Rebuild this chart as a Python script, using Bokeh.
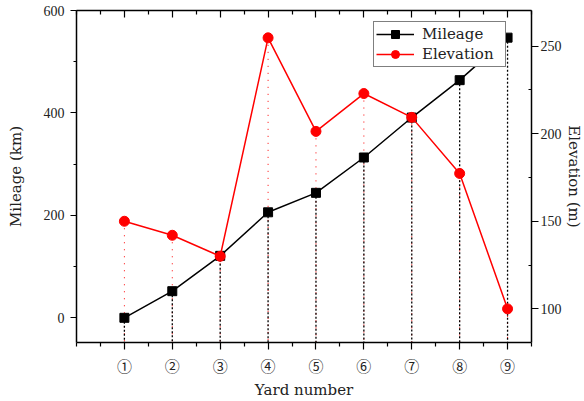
import math
from bokeh.plotting import figure
from bokeh.models import (Range1d, LinearAxis, FixedTicker, Legend, LegendItem,
                          CustomLabelingPolicy, Title)
from bokeh.embed import file_html
from bokeh.resources import INLINE

# ---- data ----
yards = [1, 2, 3, 4, 5, 6, 7, 8, 9]
yard_labels = ["①", "②", "③", "④", "⑤", "⑥", "⑦", "⑧", "⑨"]
mileage = [0, 52, 121, 206, 244, 313, 391, 464, 547]
elevation = [150, 142, 130, 254.7, 201.3, 222.9, 209.3, 177.3, 100]

x_ticks = [1, 2, 3, 4, 5, 6, 7, 8, 9]
x_minor = [0, 0.5, 1.5, 2.5, 3.5, 4.5, 5.5, 6.5, 7.5, 8.5, 9.5]
mileage_ticks = [0, 200, 400, 600]
mileage_minor = [100, 300, 500]
elev_ticks = [100, 150, 200, 250]
elev_minor = [125, 175, 225]

x_lo, x_hi = 0, 9.5
m_lo, m_hi = -48.2, 600
e_lo, e_hi = 80.8, 270.3

TICK_FONT = "Liberation Serif"
LABEL_FONT = "DejaVu Serif"
TXT = "#222222"

p = figure(width=584, height=401, output_backend="svg", toolbar_location=None,
           x_range=Range1d(x_lo, x_hi), y_range=Range1d(m_lo, m_hi),
           x_axis_location=None, y_axis_location=None, title=None,
           min_border_left=76, min_border_right=51, min_border_top=10, min_border_bottom=55)
p.extra_y_ranges = {"elev": Range1d(e_lo, e_hi)}
p.outline_line_color = None
p.grid.visible = False
p.background_fill_color = "white"
p.border_fill_color = "white"

def style_axis(ax):
    ax.axis_line_color = "black"
    ax.axis_line_width = 1.5
    ax.major_tick_line_color = "black"
    ax.minor_tick_line_color = "black"
    ax.major_tick_line_width = 1.2
    ax.minor_tick_line_width = 1.2
    ax.major_label_text_color = TXT
    ax.axis_label_text_color = TXT
    ax.axis_label_text_font_style = "normal"

# bottom axis
xb = LinearAxis(ticker=FixedTicker(ticks=x_ticks, minor_ticks=x_minor),
                axis_label="Yard number")
xb.major_label_overrides = {y: l for y, l in zip(yards, yard_labels)}
style_axis(xb)
xb.major_tick_out = 7
xb.major_tick_in = 0
xb.minor_tick_out = 4
xb.minor_tick_in = 0
xb.major_label_standoff = 5
xb.major_label_text_font = "Noto Sans CJK SC"
xb.major_label_text_font_size = "15px"
xb.axis_label_text_font = LABEL_FONT
xb.axis_label_text_font_size = "15px"
xb.axis_label_standoff = 2
p.add_layout(xb, "below")

# top axis (ticks only, no labels drawn)
xt = LinearAxis(ticker=FixedTicker(ticks=x_ticks, minor_ticks=x_minor))
style_axis(xt)
xt.major_tick_out = 0
xt.major_tick_in = 7
xt.minor_tick_out = 0
xt.minor_tick_in = 4
xt.major_label_standoff = 0
xt.major_label_text_font_size = "1px"
xt.major_label_policy = CustomLabelingPolicy(
    code="for (const i of Array.from(indices)) { indices.unset(i) }; return indices")
p.add_layout(xt, "above")

# left axis
yl = LinearAxis(ticker=FixedTicker(ticks=mileage_ticks, minor_ticks=mileage_minor),
                axis_label="Mileage (km)")
style_axis(yl)
yl.major_tick_out = 6
yl.major_tick_in = 0
yl.minor_tick_out = 3
yl.minor_tick_in = 0
yl.major_label_standoff = 6
yl.major_label_text_font = TICK_FONT
yl.major_label_text_font_size = "14px"
yl.axis_label_text_font = LABEL_FONT
yl.axis_label_text_font_size = "15px"
yl.axis_label_standoff = 16
p.add_layout(yl, "left")

# right axis
yr = LinearAxis(y_range_name="elev",
                ticker=FixedTicker(ticks=elev_ticks, minor_ticks=elev_minor))
style_axis(yr)
yr.major_tick_out = 7
yr.major_tick_in = 0
yr.minor_tick_out = 0
yr.minor_tick_in = 3
yr.major_label_standoff = 2
yr.major_label_text_font = TICK_FONT
yr.major_label_text_font_size = "14px"
p.add_layout(yr, "right")

# right axis title
p.add_layout(Title(text="Elevation (m)", align="center", text_font=LABEL_FONT,
                   text_font_size="15px", text_font_style="normal",
                   text_color=TXT, standoff=0), "right")

# dotted drop lines
p.segment(x0=yards, y0=elevation, x1=yards, y1=[e_lo] * len(yards),
          y_range_name="elev", line_color="red", line_width=1, line_dash="1 6")
p.segment(x0=yards, y0=mileage, x1=yards, y1=[m_lo] * len(yards),
          line_color="black", line_width=1.3, line_dash="2 2")

# series
m_line = p.line(yards, mileage, line_color="black", line_width=1.5)
m_pts = p.scatter(yards, mileage, marker="square", size=9, fill_color="black",
                  line_color="black")
e_line = p.line(yards, elevation, y_range_name="elev", line_color="red", line_width=1.5)
e_pts = p.scatter(yards, elevation, y_range_name="elev", marker="circle", size=10,
                  fill_color="red", line_color="red")

legend = Legend(items=[LegendItem(label="Mileage", renderers=[m_line, m_pts]),
                       LegendItem(label="Elevation", renderers=[e_line, e_pts])],
                location=(297, 275))
legend.border_line_color = "black"
legend.border_line_width = 1
legend.background_fill_alpha = 1
legend.padding = 2
legend.margin = 0
legend.spacing = 0
legend.glyph_width = 38
legend.glyph_height = 20
legend.label_height = 20
legend.label_width = 81
legend.label_standoff = 8
legend.label_text_font = LABEL_FONT
legend.label_text_font_size = "15px"
legend.label_text_color = TXT
p.add_layout(legend, "center")

open("out.html", "w").write(file_html(p, INLINE))
